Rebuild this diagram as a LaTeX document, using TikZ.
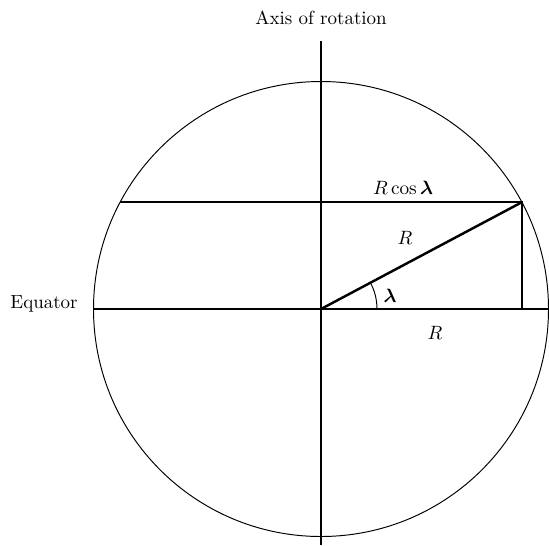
\documentclass[tikz,border=0pt]{standalone}
\usepackage{amsmath,bm}
\usetikzlibrary{positioning,calc}

\begin{document}
\begin{tikzpicture}[
thin line/.style={line width=.55pt,draw=black},
bold line/.style={line width=1.4pt,draw=black},
lbl/.style={inner sep=1pt,font=\fontsize{10.8}{13}\selectfont}]
\useasboundingbox (-6.42,-4.72) rectangle (4.56,6.18);
\coordinate (O) at (0,0);
\coordinate (P) at (28:4.55);
\coordinate (Q) at (152:4.55);
\coordinate (F) at (P|-O);
\coordinate (EL) at (180:4.55);\coordinate (ER) at (0:4.55);
\coordinate (AT) at (0,5.36);\coordinate (AB) at (0,-4.72);
\draw[thin line] (O) circle (4.55);
\draw[bold line] (AT)--(AB);
\draw[bold line] (EL)--(ER);
\draw[bold line] (Q)--(P)--(F);
\draw[bold line] (O)--(P);
\draw[thin line] (1.12,0) arc (0:28:1.12);
\node[lbl] (axis) at (0,5.82) {Axis of rotation};
\node[lbl] (eq) at (-5.54,0.1) {Equator};
\node[lbl] (rcos) at (1.64,2.42) {$R\cos\bm{\lambda}$};
\node[lbl] (r1) at (1.68,1.42) {$R$};
\node[lbl] (lam) at (1.38,0.26) {$\bm{\lambda}$};
\node[lbl] (r2) at (2.28,-0.48) {$R$};
\end{tikzpicture}
\end{document}
